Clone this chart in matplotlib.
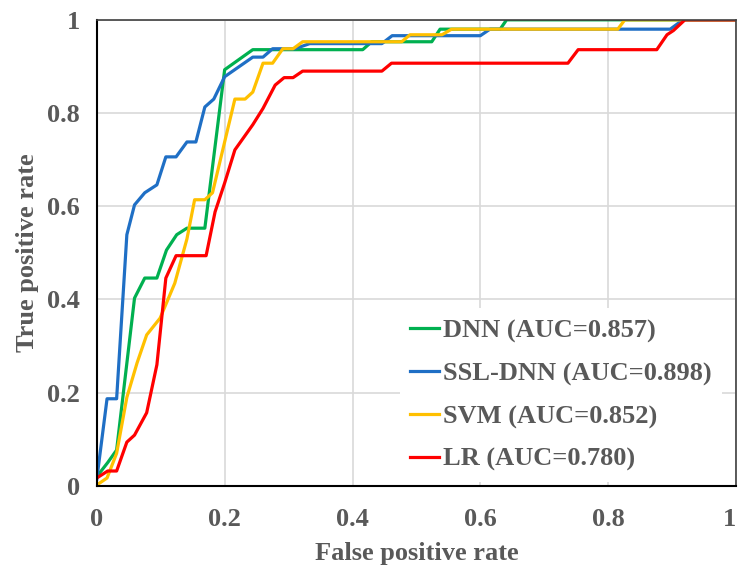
import matplotlib
matplotlib.use("Agg")
import matplotlib.pyplot as plt

# ROC curve points
dnn_fpr = [0, 0.017, 0.031, 0.059, 0.075, 0.094, 0.109, 0.125, 0.141, 0.169,
           0.2, 0.244, 0.416, 0.43, 0.524, 0.537, 0.631, 0.641, 1]
dnn_tpr = [0.02, 0.05, 0.077, 0.403, 0.446, 0.446, 0.506, 0.539, 0.553, 0.553,
           0.893, 0.936, 0.936, 0.953, 0.953, 0.98, 0.98, 1, 1]

ssl_fpr = [0, 0.016, 0.031, 0.047, 0.059, 0.075, 0.094, 0.108, 0.124, 0.141,
           0.155, 0.169, 0.183, 0.2, 0.244, 0.26, 0.275, 0.31, 0.333, 0.446,
           0.462, 0.6, 0.615, 0.897, 0.917, 1]
ssl_tpr = [0.015, 0.187, 0.187, 0.539, 0.603, 0.629, 0.646, 0.706, 0.706, 0.738,
           0.738, 0.813, 0.83, 0.878, 0.92, 0.92, 0.938, 0.938, 0.949, 0.949,
           0.966, 0.966, 0.98, 0.98, 1, 1]

svm_fpr = [0, 0.016, 0.031, 0.047, 0.063, 0.078, 0.099, 0.122, 0.141, 0.153,
           0.169, 0.181, 0.216, 0.232, 0.244, 0.26, 0.275, 0.291, 0.307, 0.322,
           0.477, 0.49, 0.54, 0.555, 0.815, 0.826, 1]
svm_tpr = [0.002, 0.017, 0.07, 0.19, 0.264, 0.324, 0.36, 0.435, 0.53, 0.614,
           0.614, 0.629, 0.83, 0.83, 0.845, 0.907, 0.907, 0.938, 0.938, 0.953,
           0.953, 0.968, 0.968, 0.98, 0.98, 1, 1]

lr_fpr = [0, 0.017, 0.031, 0.047, 0.059, 0.078, 0.094, 0.108, 0.124, 0.171,
          0.185, 0.2, 0.216, 0.244, 0.26, 0.279, 0.293, 0.307, 0.322, 0.446,
          0.461, 0.737, 0.753, 0.876, 0.892, 0.902, 0.92, 1]
lr_tpr = [0.017, 0.032, 0.032, 0.094, 0.109, 0.157, 0.26, 0.446, 0.494, 0.494,
          0.588, 0.65, 0.721, 0.775, 0.81, 0.86, 0.876, 0.876, 0.89, 0.89,
          0.907, 0.907, 0.936, 0.936, 0.968, 0.977, 1, 1]

labels = ["DNN (AUC=0.857)", "SSL-DNN (AUC=0.898)",
          "SVM (AUC=0.852)", "LR (AUC=0.780)"]
ticks = [0, 0.2, 0.4, 0.6, 0.8, 1]
tick_labels = ["0", "0.2", "0.4", "0.6", "0.8", "1"]

grey = "#595959"
plt.rcParams["font.family"] = ["Liberation Serif", "DejaVu Serif"]
plt.rcParams["font.weight"] = "bold"

fig = plt.figure(figsize=(7.39, 5.67), dpi=100)
ax = fig.add_axes([0.131, 0.143, 0.865, 0.822])

ax.plot(dnn_fpr, dnn_tpr, color="#00b050", lw=2.3, label=labels[0])
ax.plot(ssl_fpr, ssl_tpr, color="#1f6fc5", lw=2.3, label=labels[1])
ax.plot(svm_fpr, svm_tpr, color="#ffc000", lw=2.3, label=labels[2])
ax.plot(lr_fpr, lr_tpr, color="#ff0000", lw=2.3, label=labels[3])

ax.set_xlim(0, 1)
ax.set_ylim(0, 1)
ax.set_xticks(ticks)
ax.set_xticklabels(tick_labels, fontweight="bold")
ax.set_yticks(ticks)
ax.set_yticklabels(tick_labels, fontweight="bold")
ax.tick_params(length=0, labelsize=19, colors=grey)
ax.tick_params(axis="x", pad=16)
ax.tick_params(axis="y", pad=12)
# keep the last x label inside the figure
ax.get_xticklabels()[-1].set_horizontalalignment("right")
ax.grid(color="#d9d9d9", lw=1.2)
ax.set_axisbelow(True)

for s in ["left", "bottom"]:
    ax.spines[s].set_color("black")
    ax.spines[s].set_linewidth(1.5)
for s in ["top", "right"]:
    ax.spines[s].set_color("#404040")
    ax.spines[s].set_linewidth(1.2)

ax.set_xlabel("False positive rate", fontsize=19, fontweight="bold",
              color=grey, labelpad=8)
ax.set_ylabel("True positive rate", fontsize=19, fontweight="bold",
              color=grey, labelpad=6)

leg = ax.legend(loc="lower right", bbox_to_anchor=(0.985, 0.0), fontsize=19,
                frameon=True, framealpha=1, facecolor="white",
                edgecolor="none", handlelength=1.1, handletextpad=0.15,
                labelspacing=0.72, borderaxespad=0.15, fancybox=False,
                prop={"weight": "bold", "size": 19})
for t in leg.get_texts():
    t.set_color(grey)

plt.savefig("out.png", dpi=100)
